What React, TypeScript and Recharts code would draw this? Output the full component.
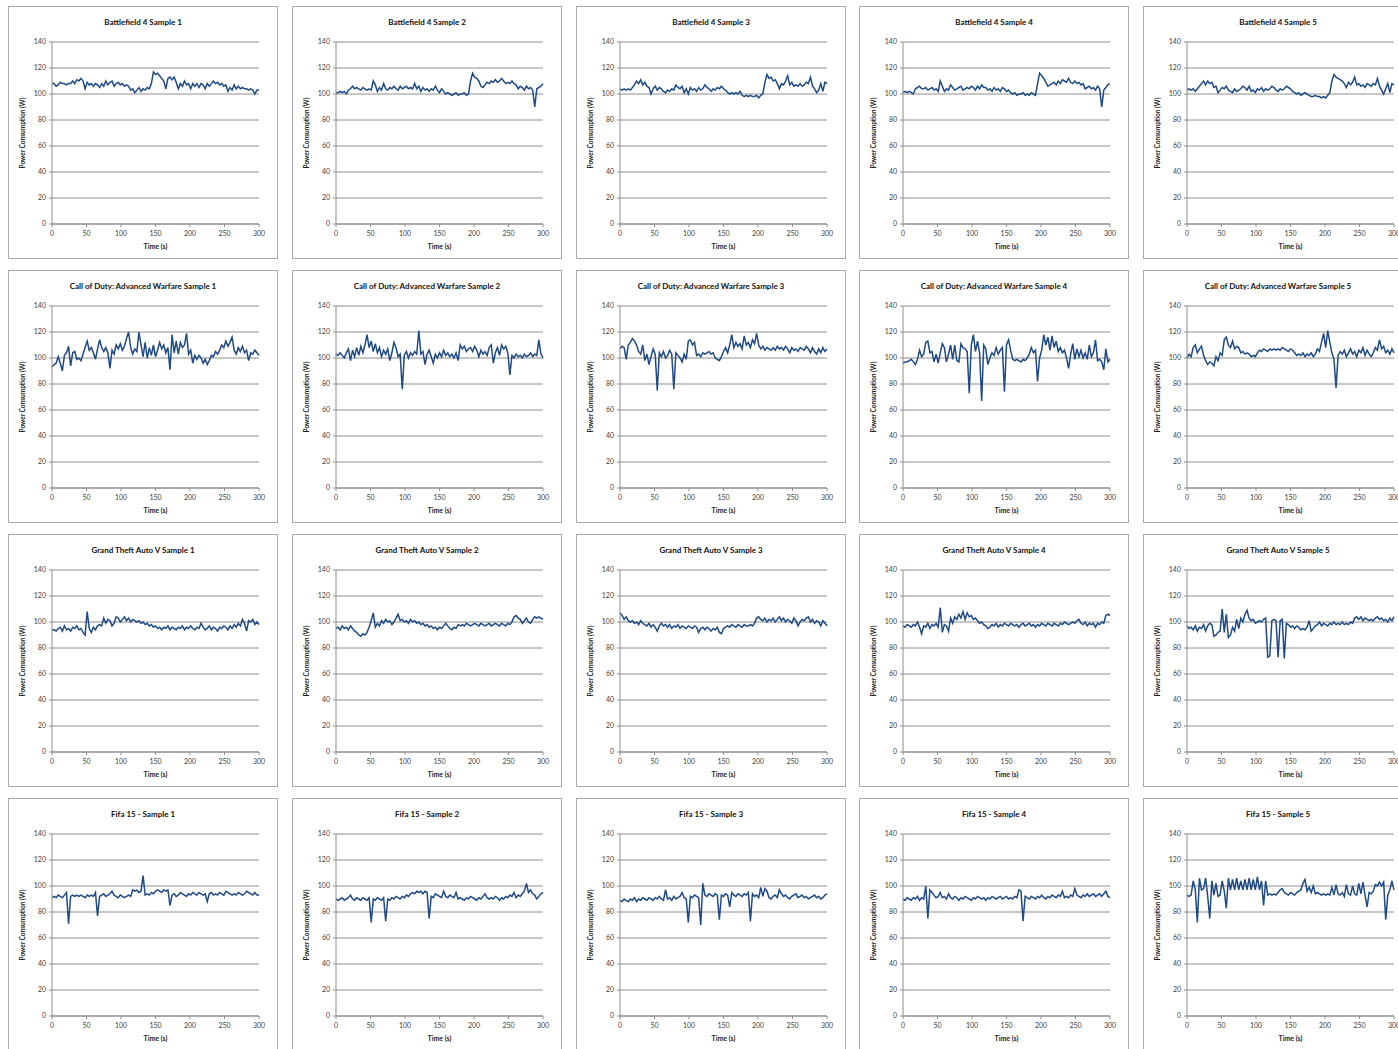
import React from 'react';
import { LineChart, Line, XAxis, YAxis, CartesianGrid } from 'recharts';

// Power draw sampled every 3 seconds over a 300 s session (Watts)
const SAMPLE_STEP_S = 3;

const bf4Sample1 = [
  108, 108, 106, 107, 109, 108, 108, 107, 108, 108,
  110, 108, 111, 110, 112, 110, 104, 109, 107, 108,
  106, 108, 107, 105, 108, 106, 110, 107, 109, 110,
  106, 108, 109, 107, 108, 106, 107, 106, 103, 104,
  101, 103, 105, 102, 104, 103, 105, 104, 108, 117,
  115, 116, 114, 112, 110, 104, 112, 113, 111, 113,
  109, 104, 108, 106, 110, 107, 108, 104, 108, 106,
  108, 105, 108, 107, 104, 108, 106, 108, 110, 108,
  109, 107, 108, 106, 107, 102, 105, 103, 107, 104,
  106, 104, 105, 104, 104, 103, 104, 103, 100, 103,
  103,
];
const bf4Sample2 = [
  101, 101, 102, 101, 102, 100, 103, 104, 106, 104,
  105, 104, 103, 105, 104, 103, 104, 103, 110, 107,
  102, 105, 103, 108, 104, 103, 105, 104, 106, 104,
  103, 106, 104, 105, 106, 104, 105, 104, 108, 104,
  106, 102, 105, 103, 104, 102, 104, 103, 106, 103,
  101, 104, 102, 100, 101, 100, 99, 100, 101, 99,
  100, 100, 101, 99, 100, 110, 116, 113, 112, 110,
  106, 105, 107, 109, 108, 110, 109, 111, 109, 110,
  112, 110, 108, 109, 108, 110, 108, 107, 104, 106,
  105, 103, 106, 104, 105, 103, 90, 104, 105, 106,
  108,
];
const bf4Sample3 = [
  104, 103, 104, 103, 104, 103, 105, 107, 110, 108,
  111, 107, 109, 106, 105, 100, 104, 106, 103, 105,
  104, 102, 101, 103, 102, 104, 103, 107, 105, 104,
  106, 101, 104, 100, 105, 103, 104, 102, 105, 103,
  104, 107, 105, 104, 102, 104, 103, 105, 104, 106,
  104, 103, 101, 100, 101, 100, 101, 100, 102, 99,
  98, 99, 98, 99, 98, 98, 99, 97, 99, 100,
  109, 115, 112, 113, 110, 111, 108, 104, 108, 107,
  110, 114, 107, 109, 106, 107, 106, 108, 106, 107,
  109, 108, 113, 106, 104, 101, 103, 108, 102, 109,
  108,
];
const bf4Sample4 = [
  101, 102, 101, 102, 101, 100, 104, 105, 106, 104,
  104, 105, 103, 104, 105, 103, 104, 102, 110, 106,
  102, 104, 103, 107, 105, 103, 104, 105, 106, 103,
  104, 105, 104, 106, 105, 103, 106, 104, 107, 105,
  105, 103, 104, 102, 105, 103, 104, 102, 105, 104,
  102, 103, 101, 100, 101, 99, 100, 100, 101, 99,
  100, 99, 101, 100, 99, 108, 116, 114, 112, 109,
  106, 107, 108, 109, 107, 110, 108, 111, 110, 109,
  112, 109, 108, 110, 108, 109, 107, 108, 104, 105,
  106, 104, 105, 103, 106, 104, 90, 103, 105, 107,
  108,
];
const bf4Sample5 = [
  103, 104, 103, 104, 102, 104, 106, 108, 110, 107,
  110, 108, 109, 105, 106, 101, 103, 105, 104, 106,
  103, 102, 101, 104, 102, 103, 104, 106, 105, 103,
  106, 102, 103, 101, 104, 103, 105, 102, 104, 103,
  104, 106, 105, 103, 102, 104, 103, 104, 106, 105,
  104, 102, 101, 100, 101, 99, 100, 101, 100, 99,
  98, 98, 99, 98, 98, 97, 98, 97, 99, 101,
  110, 115, 113, 112, 111, 110, 108, 105, 109, 107,
  109, 113, 107, 108, 106, 107, 105, 108, 107, 106,
  108, 107, 112, 106, 103, 100, 104, 108, 101, 108,
  107,
];

const codSample1 = [
  93, 95, 96, 101, 96, 90, 102, 104, 109, 94,
  104, 105, 99, 100, 98, 103, 108, 113, 106, 108,
  104, 99, 107, 114, 108, 105, 108, 104, 92, 106,
  103, 110, 107, 111, 106, 109, 115, 120, 108, 103,
  107, 105, 120, 110, 101, 112, 100, 108, 102, 110,
  101, 106, 112, 107, 110, 104, 108, 91, 118, 104,
  113, 103, 112, 108, 110, 119, 103, 106, 96, 102,
  99, 102, 100, 96, 99, 95, 98, 102, 101, 105,
  103, 106, 110, 108, 113, 109, 112, 116, 106, 103,
  108, 105, 109, 104, 106, 98, 104, 103, 106, 104,
  102,
];
const codSample2 = [
  103, 102, 104, 102, 100, 104, 107, 98, 106, 101,
  108, 102, 109, 104, 110, 118, 108, 113, 105, 111,
  104, 108, 101, 106, 103, 107, 98, 104, 112, 108,
  101, 103, 76, 102, 105, 100, 104, 102, 105, 103,
  121, 103, 105, 95, 103, 106, 101, 96, 103, 100,
  104, 101, 106, 102, 104, 101, 103, 100, 104, 98,
  110, 107, 109, 105, 107, 108, 105, 109, 106, 101,
  106, 103, 105, 102, 108, 110, 96, 104, 108, 102,
  110, 107, 109, 104, 87, 102, 100, 103, 101, 102,
  100, 103, 101, 102, 104, 101, 103, 102, 114, 103,
  100,
];
const codSample3 = [
  107, 109, 108, 99, 110, 112, 115, 113, 110, 105,
  103, 110, 98, 103, 95, 101, 107, 103, 75, 104,
  101, 105, 100, 102, 106, 103, 76, 104, 102, 100,
  97, 103, 99, 113, 114, 110, 112, 102, 103, 101,
  104, 103, 104, 105, 103, 104, 100, 99, 98, 101,
  105, 108, 104, 110, 118, 108, 112, 109, 111, 107,
  117, 110, 112, 108, 114, 111, 119, 110, 107, 109,
  106, 108, 107, 106, 108, 106, 109, 107, 108, 106,
  109, 107, 104, 108, 106, 107, 105, 108, 107, 106,
  109, 107, 104, 108, 105, 103, 107, 104, 108, 105,
  107,
];
const codSample4 = [
  96, 97, 97, 98, 99, 97, 95, 99, 106, 101,
  103, 112, 113, 104, 105, 97, 103, 96, 104, 111,
  108, 97, 103, 110, 99, 110, 98, 97, 111, 108,
  107, 105, 73, 110, 118, 105, 113, 104, 67, 110,
  107, 95, 100, 104, 102, 108, 103, 106, 108, 74,
  110, 114, 106, 99, 98, 99, 98, 97, 99, 98,
  100, 103, 108, 104, 106, 82, 100, 106, 118, 110,
  116, 106, 117, 108, 113, 105, 108, 104, 106, 100,
  92, 103, 111, 99, 107, 101, 106, 100, 104, 99,
  110, 101, 104, 114, 98, 99, 97, 91, 107, 97,
  99,
];
const codSample5 = [
  100, 103, 101, 108, 110, 104, 107, 109, 102, 98,
  95, 97, 96, 94, 101, 98, 104, 102, 114, 116,
  110, 108, 113, 107, 109, 108, 104, 105, 103, 104,
  103, 101, 102, 101, 104, 106, 105, 107, 106, 105,
  107, 106, 107, 106, 107, 106, 108, 107, 106, 105,
  107, 106, 104, 102, 103, 102, 104, 101, 103, 102,
  104, 101, 103, 107, 105, 112, 119, 108, 121, 112,
  104, 99, 77, 102, 105, 103, 106, 101, 104, 107,
  103, 105, 101, 106, 104, 108, 102, 106, 103, 101,
  104, 108, 106, 114, 107, 109, 104, 106, 103, 107,
  104,
];

const gtaSample1 = [
  94, 94, 93, 95, 96, 93, 97, 94, 95, 93,
  96, 95, 97, 94, 95, 92, 90, 108, 95, 92,
  96, 94, 97, 98, 97, 103, 99, 102, 101, 97,
  99, 104, 103, 100, 102, 104, 101, 103, 100, 102,
  101, 100, 101, 99, 100, 98, 99, 97, 98, 96,
  97, 95, 96, 94, 96, 95, 97, 94, 96, 95,
  94, 96, 95, 97, 94, 96, 95, 97, 95, 94,
  96, 95, 99, 96, 94, 95, 97, 94, 96, 95,
  93, 96, 95, 97, 96, 94, 97, 95, 98, 96,
  99, 97, 102, 99, 93, 101, 100, 102, 98, 100,
  98,
];
const gtaSample2 = [
  95, 96, 94, 97, 95, 96, 94, 97, 95, 93,
  92, 90, 89, 91, 90, 92, 96, 101, 107, 96,
  99, 97, 101, 99, 102, 100, 101, 98, 100, 103,
  106, 101, 102, 100, 101, 99, 102, 100, 101, 99,
  100, 98, 99, 97, 98, 96, 97, 95, 96, 94,
  96, 95, 97, 99, 97, 95, 94, 96, 95, 98,
  97, 98, 97, 99, 98, 97, 98, 99, 98, 97,
  99, 98, 97, 98, 99, 97, 98, 99, 98, 97,
  99, 98, 97, 99, 98, 100, 104, 105, 103, 102,
  99, 101, 103, 100, 99, 102, 104, 103, 104, 103,
  102,
];
const gtaSample3 = [
  107, 105, 102, 104, 101, 100, 101, 99, 100, 98,
  101, 99, 98, 97, 99, 96, 98, 96, 93, 97,
  99, 97, 98, 96, 98, 95, 97, 96, 98, 95,
  97, 96, 95, 97, 96, 95, 97, 96, 92, 95,
  96, 94, 96, 95, 93, 95, 94, 96, 92, 91,
  95, 96, 97, 96, 98, 97, 96, 98, 97, 96,
  98, 97, 97, 98, 97, 99, 103, 104, 102, 101,
  103, 100, 102, 101, 103, 100, 102, 104, 101, 103,
  100, 102, 101, 99, 103, 101, 97, 100, 102, 101,
  103, 104, 100, 102, 99, 101, 100, 97, 101, 99,
  97,
];
const gtaSample4 = [
  97, 96, 98, 97, 96, 98, 97, 100, 96, 91,
  97, 96, 99, 95, 98, 97, 99, 96, 111, 92,
  98, 97, 93, 103, 99, 104, 102, 106, 103, 108,
  102, 107, 104, 105, 102, 103, 101, 99, 100, 98,
  97, 95, 96, 98, 97, 99, 96, 98, 97, 99,
  98, 97, 99, 98, 97, 98, 96, 98, 99, 97,
  98, 99, 97, 98, 96, 98, 97, 99, 98, 97,
  99, 98, 97, 99, 98, 97, 99, 98, 100, 99,
  98, 99, 100, 99, 101, 102, 99, 98, 100, 97,
  99, 98, 99, 96, 99, 98, 100, 99, 105, 106,
  105,
];
const gtaSample5 = [
  97, 95, 96, 94, 97, 93, 96, 95, 98, 93,
  97, 99, 98, 89, 90, 92, 93, 110, 92, 106,
  88, 90, 96, 93, 102, 95, 103, 100, 106, 109,
  103, 101, 102, 99, 100, 101, 100, 102, 103, 73,
  74, 101, 102, 101, 73, 101, 102, 72, 99, 98,
  96, 97, 95, 97, 96, 94, 95, 94, 96, 101,
  93, 95, 97, 98, 100, 97, 99, 98, 97, 99,
  98, 100, 98, 99, 98, 100, 98, 99, 98, 100,
  99, 103, 104, 102, 104, 101, 103, 102, 101, 102,
  101, 103, 104, 102, 103, 101, 102, 100, 103, 101,
  104,
];

const fifaSample1 = [
  91, 92, 91, 93, 92, 91, 93, 95, 71, 92,
  93, 92, 93, 92, 93, 92, 91, 93, 92, 93,
  92, 95, 77, 92, 93, 94, 92, 93, 94, 96,
  93, 92, 91, 93, 92, 91, 92, 93, 92, 97,
  96, 97, 95, 96, 108, 93, 94, 93, 95, 94,
  96, 97, 96, 95, 97, 96, 97, 85, 93, 94,
  92, 93, 95, 94, 93, 92, 94, 93, 95, 94,
  93, 95, 94, 93, 94, 88, 94, 95, 93, 94,
  93, 95, 94, 93, 96, 95, 94, 93, 94, 93,
  95, 94, 93, 94, 96, 95, 94, 93, 95, 93,
  93,
];
const fifaSample2 = [
  90, 89, 90, 91, 89, 90, 91, 93, 90, 89,
  91, 90, 89, 91, 90, 89, 91, 72, 90, 89,
  91, 90, 89, 91, 73, 90, 89, 91, 90, 92,
  91, 90, 92, 91, 93, 92, 94, 95, 94, 96,
  95, 96, 94, 96, 95, 75, 92, 91, 94, 93,
  92, 91, 96, 92, 91, 93, 92, 91, 95, 90,
  91, 90, 89, 91, 90, 92, 91, 90, 89, 91,
  90, 92, 94, 91, 90, 91, 90, 92, 91, 89,
  91, 90, 92, 91, 93, 92, 95, 91, 93, 92,
  94, 96, 102, 95, 97, 94, 93, 90, 92, 94,
  95,
];
const fifaSample3 = [
  89, 88, 90, 89, 88, 90, 89, 91, 88, 90,
  89, 91, 90, 89, 91, 90, 89, 91, 90, 92,
  90, 89, 97, 90, 91, 89, 92, 90, 91, 92,
  95, 91, 90, 72, 92, 91, 93, 92, 91, 70,
  102, 93, 92, 94, 93, 92, 94, 93, 74, 93,
  92, 94, 93, 84, 95, 93, 92, 94, 93, 92,
  94, 93, 95, 73, 94, 92, 93, 91, 99, 92,
  98, 96, 91, 90, 92, 93, 91, 97, 94, 92,
  93, 91, 90, 92, 93, 94, 91, 92, 93, 91,
  92, 90, 91, 92, 93, 91, 92, 90, 91, 93,
  94,
];
const fifaSample4 = [
  90, 89, 91, 90, 89, 91, 90, 92, 89, 91,
  90, 100, 75, 97, 95, 93, 91, 92, 95, 91,
  92, 90, 94, 91, 90, 92, 91, 89, 91, 90,
  92, 91, 90, 89, 91, 90, 92, 91, 90, 91,
  89, 91, 90, 92, 91, 90, 91, 92, 90, 91,
  92, 90, 91, 90, 92, 91, 97, 96, 73, 92,
  91, 90, 92, 91, 90, 92, 91, 93, 91, 90,
  92, 91, 93, 92, 91, 93, 92, 96, 91, 92,
  91, 93, 92, 98, 93, 92, 91, 93, 92, 94,
  92, 93, 94, 92, 93, 94, 92, 94, 96, 92,
  91,
];
const fifaSample5 = [
  93, 92, 93, 104, 97, 72, 106, 97, 98, 106,
  92, 75, 104, 93, 102, 92, 93, 104, 96, 83,
  106, 97, 105, 97, 106, 97, 104, 97, 105, 97,
  106, 97, 105, 97, 107, 97, 104, 85, 104, 93,
  94, 93, 94, 93, 95, 97, 98, 95, 94, 93,
  95, 94, 93, 95, 96, 97, 102, 105, 96, 99,
  95, 100, 94, 95, 94, 93, 94, 93, 94, 93,
  99, 93, 101, 94, 93, 95, 92, 101, 94, 93,
  100, 94, 93, 102, 94, 103, 93, 84, 95, 94,
  96, 101, 100, 103, 100, 103, 74, 93, 97, 104,
  97,
];

const chartTitles = [
  ['Battlefield 4 Sample 1', 'Battlefield 4 Sample 2', 'Battlefield 4 Sample 3', 'Battlefield 4 Sample 4', 'Battlefield 4 Sample 5'],
  ['Call of Duty: Advanced Warfare Sample 1', 'Call of Duty: Advanced Warfare Sample 2', 'Call of Duty: Advanced Warfare Sample 3', 'Call of Duty: Advanced Warfare Sample 4', 'Call of Duty: Advanced Warfare Sample 5'],
  ['Grand Theft Auto V Sample 1', 'Grand Theft Auto V Sample 2', 'Grand Theft Auto V Sample 3', 'Grand Theft Auto V Sample 4', 'Grand Theft Auto V Sample 5'],
  ['Fifa 15 - Sample 1', 'Fifa 15 - Sample 2', 'Fifa 15 - Sample 3', 'Fifa 15 - Sample 4', 'Fifa 15 - Sample 5'],
];
const chartSeries = [
  [bf4Sample1, bf4Sample2, bf4Sample3, bf4Sample4, bf4Sample5],
  [codSample1, codSample2, codSample3, codSample4, codSample5],
  [gtaSample1, gtaSample2, gtaSample3, gtaSample4, gtaSample5],
  [fifaSample1, fifaSample2, fifaSample3, fifaSample4, fifaSample5],
];

const xTicks = [0, 50, 100, 150, 200, 250, 300];
const yTicks = [0, 20, 40, 60, 80, 100, 120, 140];
const xAxisTitle = 'Time (s)';
const yAxisTitle = 'Power Consumption (W)';

const COL_LEFT = [8, 292, 576, 859, 1143];
const ROW_TOP = [6, 270, 534, 798];
const PANEL_W = 270;
const PANEL_H = 253;
const FONT = 'Lato, "Open Sans", sans-serif';
const LINE_COLOR = '#1f4a84';
const GRID_COLOR = '#8e8e8e';

function toRows(values: number[]) {
  return values.map((w, i) => ({ t: i * SAMPLE_STEP_S, w }));
}

function Panel({ title, values, left, top }: { title: string; values: number[]; left: number; top: number }) {
  const innerW = PANEL_W - 2;
  const innerH = PANEL_H - 2;
  const tickStyle = { fontSize: 7, fill: '#404040', fontFamily: FONT };
  return (
    <div
      style={{
        position: 'absolute',
        left,
        top,
        width: PANEL_W,
        height: PANEL_H,
        boxSizing: 'border-box',
        border: '1px solid #a9a9a9',
        background: '#fff',
      }}
    >
      <div
        style={{
          position: 'absolute',
          left: 0,
          top: 10,
          width: innerW,
          textAlign: 'center',
          fontFamily: FONT,
          fontWeight: 700,
          fontSize: 8,
          color: '#111',
          whiteSpace: 'nowrap',
        }}
      >
        {title}
      </div>
      <div
        style={{
          position: 'absolute',
          left: 14 - 60,
          top: 126 - 5,
          width: 120,
          height: 10,
          lineHeight: '10px',
          textAlign: 'center',
          transform: 'rotate(-90deg)',
          fontFamily: FONT,
          fontWeight: 700,
          fontSize: 6.5,
          color: '#222',
          whiteSpace: 'nowrap',
        }}
      >
        {yAxisTitle}
      </div>
      <div
        style={{
          position: 'absolute',
          left: 43,
          top: 235,
          width: 207,
          textAlign: 'center',
          fontFamily: FONT,
          fontWeight: 700,
          fontSize: 7,
          color: '#222',
          whiteSpace: 'nowrap',
        }}
      >
        {xAxisTitle}
      </div>
      <div style={{ position: 'absolute', left: 0, top: 0 }}>
        <LineChart
          width={innerW}
          height={innerH}
          data={toRows(values)}
          margin={{ top: 35, right: 18, bottom: 0, left: 0 }}
        >
          <CartesianGrid vertical={false} stroke={GRID_COLOR} strokeWidth={1} />
          <XAxis
            dataKey="t"
            type="number"
            domain={[0, 300]}
            ticks={xTicks}
            interval={0}
            height={34}
            tick={tickStyle}
            tickSize={3}
            tickMargin={4}
            axisLine={{ stroke: GRID_COLOR }}
            tickLine={{ stroke: GRID_COLOR }}
          />
          <YAxis
            type="number"
            domain={[0, 140]}
            ticks={yTicks}
            interval={0}
            width={43}
            tick={tickStyle}
            tickSize={3}
            tickMargin={3}
            axisLine={{ stroke: GRID_COLOR }}
            tickLine={{ stroke: GRID_COLOR }}
          />
          <Line
            type="linear"
            dataKey="w"
            stroke={LINE_COLOR}
            strokeWidth={1.5}
            dot={false}
            activeDot={false}
            isAnimationActive={false}
          />
        </LineChart>
      </div>
    </div>
  );
}

export default function App() {
  return (
    <div
      style={{
        position: 'absolute',
        left: 0,
        top: 0,
        width: 1398,
        height: 1049,
        overflow: 'hidden',
        background: '#fff',
      }}
    >
      {chartSeries.map((row, r) =>
        row.map((values, c) => (
          <Panel
            key={`${r}-${c}`}
            title={chartTitles[r][c]}
            values={values}
            left={COL_LEFT[c]}
            top={ROW_TOP[r]}
          />
        ))
      )}
    </div>
  );
}
